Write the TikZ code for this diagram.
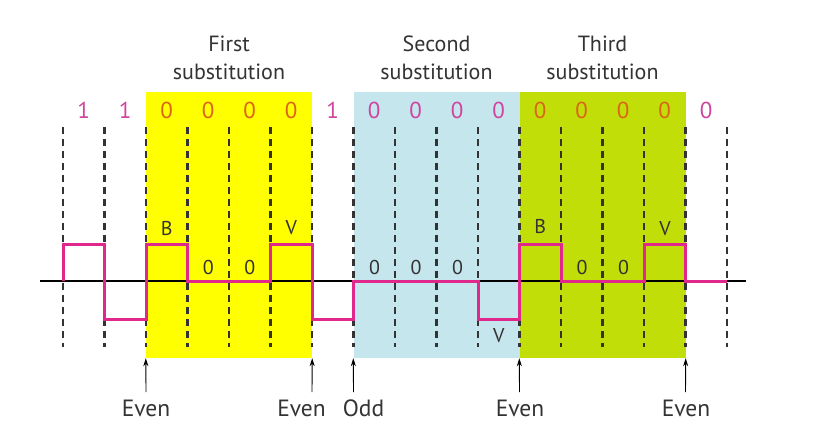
\documentclass[tikz,border=0pt]{standalone}
\usepackage{fontspec}
\setmainfont{PT Sans}
\usetikzlibrary{arrows.meta}
\definecolor{sigpink}{HTML}{E0288C}
\definecolor{bitpink}{HTML}{D0449E}
\definecolor{bitorange}{HTML}{DC6418}
\definecolor{boxyellow}{HTML}{FFFF00}
\definecolor{boxblue}{HTML}{C6E6EE}
\definecolor{boxgreen}{HTML}{C2DE08}
\definecolor{ink}{HTML}{333333}
\begin{document}
\begin{tikzpicture}[x=1pt,y=-1pt,
  subbox/.style={draw=none,inner sep=0pt,minimum width=166pt,minimum height=266pt},
  title/.style={align=center,text=ink,font=\fontsize{22}{28}\selectfont,inner sep=0pt},
  bitlbl/.style={font=\fontsize{23}{24}\selectfont,inner sep=0pt},
  siglbl/.style={text=ink,font=\fontsize{20}{22}\selectfont,inner sep=0pt},
  parlbl/.style={text=ink,font=\fontsize{23.5}{26}\selectfont,inner sep=0pt},
  slot/.style={draw=ink,line width=2.2pt,dash pattern=on 7pt off 5pt},
  signal/.style={draw=sigpink,line width=3pt,line join=miter},
  marker/.style={draw=black,line width=0.9pt,-{Stealth[length=8pt,width=5pt]}}]
\useasboundingbox (0,0) rectangle (813,444);
\fill[white] (0,0) rectangle (813,444);
% substitution boxes
\node[subbox,fill=boxyellow] (sub1) at (229,225) {};
\node[subbox,fill=boxblue]   (sub2) at (436.5,225) {};
\node[subbox,fill=boxgreen]  (sub3) at (602.5,225) {};
% titles
\node[title] (t1) at (229,58) {First\\substitution};
\node[title] (t2) at (436.5,58) {Second\\substitution};
\node[title] (t3) at (602.5,58) {Third\\substitution};
% baseline
\coordinate (bl0) at (40,281);
\coordinate (bl1) at (746,281);
\draw[black,line width=1.5pt] (bl0) -- (bl1);
% slot boundaries
\foreach \i in {0,...,16}{
  \draw[slot] ({63+41.5*\i},127) -- ({63+41.5*\i},347);
}
% bit labels
\foreach \i/\b/\c in {0/1/bitpink,1/1/bitpink,2/0/bitorange,3/0/bitorange,4/0/bitorange,5/0/bitorange,
  6/1/bitpink,7/0/bitpink,8/0/bitpink,9/0/bitpink,10/0/bitpink,11/0/bitorange,12/0/bitorange,
  13/0/bitorange,14/0/bitorange,15/0/bitpink}{
  \node[bitlbl,text=\c] (bit\i) at ({83.75+41.5*\i},110) {\b};
}
% signal
\draw[signal] (63,281) -- (63,244) -- (104.5,244) -- (104.5,319) -- (146,319) -- (146,244)
  -- (187.5,244) -- (187.5,281) -- (270.5,281) -- (270.5,244) -- (312,244) -- (312,319)
  -- (353.5,319) -- (353.5,281) -- (478,281) -- (478,319) -- (519.5,319) -- (519.5,244)
  -- (561,244) -- (561,281) -- (644,281) -- (644,244) -- (685.5,244) -- (685.5,281) -- (727,281);
% signal labels
\node[siglbl] (sB1) at (166.75,228) {B};
\node[siglbl] (sz1) at (208.25,267) {0};
\node[siglbl] (sz2) at (249.75,267) {0};
\node[siglbl] (sV1) at (291.25,228) {V};
\node[siglbl] (sz3) at (374.5,267) {0};
\node[siglbl] (sz4) at (416,267) {0};
\node[siglbl] (sz5) at (457.5,267) {0};
\node[siglbl] (sV2) at (498.75,336) {V};
\node[siglbl] (sB2) at (540.25,226) {B};
\node[siglbl] (sz6) at (582,267) {0};
\node[siglbl] (sz7) at (623.5,267) {0};
\node[siglbl] (sV3) at (665,229) {V};
% parity labels and arrows
\node[parlbl] (p1) at (146,408) {Even};
\node[parlbl] (p2) at (301.5,408) {Even};
\node[parlbl] (p3) at (363.5,408) {Odd};
\node[parlbl] (p4) at (520,408) {Even};
\node[parlbl] (p5) at (686,408) {Even};
\coordinate (a1) at (146,392);
\coordinate (a2) at (312,392);
\coordinate (a3) at (353.5,392);
\coordinate (a4) at (519.5,392);
\coordinate (a5) at (685.5,392);
\draw[marker] (a1) -- (sub1.south west);
\draw[marker] (a2) -- (sub1.south east);
\draw[marker] (a3) -- (sub2.south west);
\draw[marker] (a4) -- (sub3.south west);
\draw[marker] (a5) -- (sub3.south east);
\end{tikzpicture}
\end{document}
